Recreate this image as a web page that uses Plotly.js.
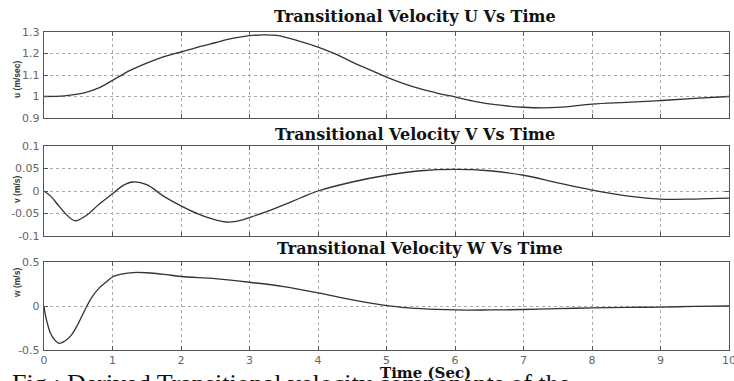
<!DOCTYPE html>
<html>
<head>
<meta charset="utf-8">
<script src="https://cdn.plot.ly/plotly-3.0.1.min.js"></script>
<style>html,body{margin:0;padding:0;background:#fff;}#chart{width:734px;height:381px;}</style>
</head>
<body>
<div id="chart"></div>
<script>
// ---- data ----
var tU = [0,0.3,0.6,0.8,1.0,1.25,1.5,1.75,2.0,2.25,2.5,2.75,3.0,3.2,3.4,3.7,4.0,4.25,4.5,4.75,5.0,5.25,5.5,5.75,6.0,6.25,6.5,7.0,7.5,8.0,8.5,9.0,9.5,10];
var uVals = [1.0,1.003,1.018,1.04,1.075,1.12,1.155,1.185,1.207,1.23,1.25,1.27,1.283,1.287,1.284,1.26,1.23,1.198,1.16,1.125,1.09,1.06,1.035,1.015,0.998,0.98,0.966,0.95,0.949,0.965,0.973,0.981,0.991,1.0];

var tV = [0,0.1,0.2,0.3,0.45,0.6,0.8,1.0,1.15,1.3,1.5,1.75,2.0,2.25,2.5,2.7,2.9,3.0,3.25,3.5,3.75,4.0,4.5,5.0,5.5,6.0,6.5,7.0,7.5,8.0,8.5,9.0,9.5,10];
var vVals = [0,-0.012,-0.03,-0.048,-0.066,-0.056,-0.03,-0.006,0.012,0.02,0.014,-0.012,-0.033,-0.051,-0.064,-0.069,-0.064,-0.059,-0.046,-0.031,-0.015,0.0,0.02,0.035,0.045,0.048,0.045,0.035,0.018,0.002,-0.011,-0.018,-0.018,-0.016];

var tW = [0,0.02,0.05,0.09,0.15,0.22,0.3,0.4,0.5,0.6,0.7,0.8,0.92,1.0,1.15,1.3,1.5,1.75,2.0,2.5,3.0,3.5,4.0,4.5,5.0,5.5,6.0,6.5,7.0,7.5,8.0,8.5,9.0,9.5,10];
var wVals = [0,-0.1,-0.2,-0.3,-0.38,-0.425,-0.4,-0.33,-0.2,-0.04,0.1,0.2,0.28,0.33,0.365,0.38,0.378,0.36,0.335,0.31,0.27,0.22,0.15,0.07,0.005,-0.03,-0.045,-0.045,-0.04,-0.03,-0.022,-0.016,-0.012,-0.005,0];

var xTicks = [0,1,2,3,4,5,6,7,8,9,10];
var xTickText = ['0','1','2','3','4','5','6','7','8','9','10'];
var uTicks = [0.9,1.0,1.1,1.2,1.3];
var uTickText = ['0.9','1','1.1','1.2','1.3'];
var vTicks = [-0.1,-0.05,0,0.05,0.1];
var vTickText = ['-0.1','-0.05','0','0.05','0.1'];
var wTicks = [-0.5,0,0.5];
var wTickText = ['-0.5','0','0.5'];

var titles = ['Transitional Velocity U Vs Time','Transitional Velocity V Vs Time','Transitional Velocity W Vs Time'];
var yLabels = ['u (m/sec)','v (m/s)','w (m/s)'];
var xLabel = 'Time (Sec)';
var caption = 'Fig.: Derived Transitional velocity components of the';

// ---- styling ----
var lineStyle = {color:'#333', width:1.3, shape:'spline', smoothing:1};
var traces = [
  {x:tU, y:uVals, xaxis:'x', yaxis:'y', mode:'lines', line:lineStyle, hoverinfo:'skip'},
  {x:tV, y:vVals, xaxis:'x2', yaxis:'y2', mode:'lines', line:lineStyle, hoverinfo:'skip'},
  {x:tW, y:wVals, xaxis:'x3', yaxis:'y3', mode:'lines', line:lineStyle, hoverinfo:'skip'}
];

var tickFont = {family:'DejaVu Sans, sans-serif', size:11, color:'#666'};
function xa(anchor, showLabels){
  return {anchor:anchor, domain:[0,1], range:[0,10], tickmode:'array', tickvals:xTicks, ticktext:xTickText,
    showticklabels:showLabels, ticks:'inside', ticklen:4, tickcolor:'#555', showline:true, mirror:'ticks',
    linecolor:'#555', linewidth:1.2, showgrid:true, gridcolor:'#aaa', griddash:'dot', gridwidth:1,
    zeroline:false, tickfont:tickFont, ticklabeloverflow:'allow', ticklabelstandoff:0, fixedrange:true};
}
function ya(anchor, dom, rng, tv, tt){
  return {anchor:anchor, domain:dom, range:rng, tickmode:'array', tickvals:tv, ticktext:tt,
    ticks:'inside', ticklen:4, tickcolor:'#555', showline:true, mirror:'ticks', linecolor:'#555', linewidth:1.2,
    showgrid:true, gridcolor:'#aaa', griddash:'dot', gridwidth:1, zeroline:false, tickfont:tickFont,
    ticklabelstandoff:1, fixedrange:true};
}

var H = 381, L = 44, W = 685;
function py(p){ return 1 - p/H; }
function px(p){ return (p - L)/W; }

var titleFont = {family:'DejaVu Serif, Liberation Serif, serif', size:16, color:'#111', weight:'bold'};
var xLabelFont = {family:'DejaVu Serif, Liberation Serif, serif', size:15, color:'#111', weight:'bold'};
var labelFont = {family:'Liberation Sans, Arial, sans-serif', size:8.5, color:'#333'};
var annotations = [
  {text:'<b>'+titles[0]+'</b>', xref:'paper', yref:'paper', x:px(415), y:py(17), xanchor:'center', yanchor:'middle', showarrow:false, font:titleFont},
  {text:'<b>'+titles[1]+'</b>', xref:'paper', yref:'paper', x:px(415), y:py(134), xanchor:'center', yanchor:'middle', showarrow:false, font:titleFont},
  {text:'<b>'+titles[2]+'</b>', xref:'paper', yref:'paper', x:px(420), y:py(248), xanchor:'center', yanchor:'middle', showarrow:false, font:titleFont},
  {text:'<b>'+xLabel+'</b>', xref:'paper', yref:'paper', x:px(425), y:py(373), xanchor:'center', yanchor:'middle', showarrow:false, font:xLabelFont},
  {text:'<b>'+yLabels[0]+'</b>', xref:'paper', yref:'paper', x:px(17), y:py(80), xanchor:'center', yanchor:'middle', textangle:-90, showarrow:false, font:labelFont},
  {text:'<b>'+yLabels[1]+'</b>', xref:'paper', yref:'paper', x:px(17), y:py(189), xanchor:'center', yanchor:'middle', textangle:-90, showarrow:false, font:labelFont},
  {text:'<b>'+yLabels[2]+'</b>', xref:'paper', yref:'paper', x:px(17), y:py(283), xanchor:'center', yanchor:'middle', textangle:-90, showarrow:false, font:labelFont},
  {text:caption, xref:'paper', yref:'paper', x:px(10), y:py(367), xanchor:'left', yanchor:'top', showarrow:false, font:{family:'Liberation Serif, Times New Roman, serif', size:26, color:'#111'}}
];

var layout = {
  width:734, height:381,
  margin:{l:L, r:5, t:0, b:0},
  paper_bgcolor:'#fff', plot_bgcolor:'#fff',
  showlegend:false,
  xaxis: xa('y', false),
  yaxis: ya('x', [py(118), py(32)], [0.9,1.3], uTicks, uTickText),
  xaxis2: xa('y2', false),
  yaxis2: ya('x2', [py(236), py(146)], [-0.1,0.1], vTicks, vTickText),
  xaxis3: xa('y3', true),
  yaxis3: ya('x3', [py(350), py(262)], [-0.5,0.5], wTicks, wTickText),
  annotations: annotations
};

Plotly.newPlot('chart', traces, layout, {staticPlot:true, displayModeBar:false});
</script>
</body>
</html>
